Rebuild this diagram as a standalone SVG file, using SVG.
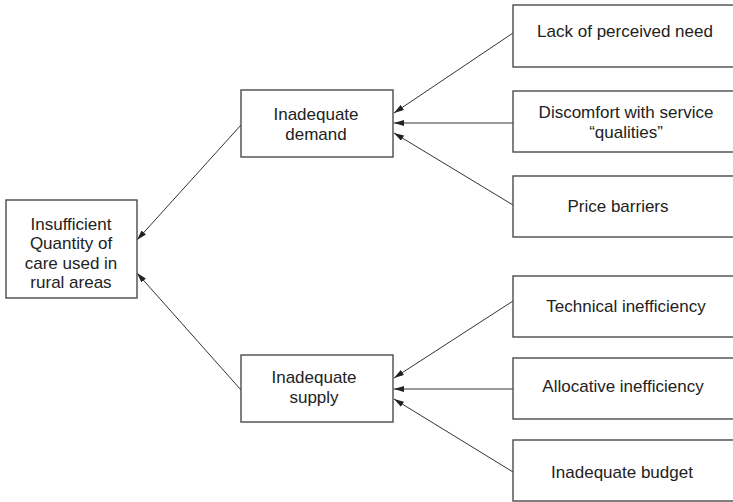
<svg xmlns="http://www.w3.org/2000/svg" width="733" height="502" viewBox="0 0 733 502">
  <defs>
    <style>
      .box { fill: #ffffff; stroke: #4a4a4a; stroke-width: 1.4; }
      .lbl { font-family: "Liberation Sans", Arial, sans-serif; font-size: 17px; fill: #222222; text-anchor: middle; }
      .link { stroke: #333333; stroke-width: 1; fill: none; marker-end: url(#head); }
    </style>
    <marker id="head" viewBox="0 0 10 6" refX="10" refY="3" markerWidth="10" markerHeight="6" markerUnits="userSpaceOnUse" orient="auto">
      <path d="M0,0 L10,3 L0,6 Z" fill="#222222"/>
    </marker>
  </defs>
  <rect width="733" height="502" fill="#ffffff"/>

  <!-- connectors -->
  <g id="connectors">
    <line class="link" x1="241" y1="125" x2="137" y2="240"/>
    <line class="link" x1="241" y1="390" x2="137" y2="273"/>
    <line class="link" x1="513" y1="33" x2="394" y2="113"/>
    <line class="link" x1="513" y1="123" x2="394" y2="123"/>
    <line class="link" x1="513" y1="205" x2="394" y2="133"/>
    <line class="link" x1="513" y1="301" x2="394" y2="378"/>
    <line class="link" x1="513" y1="389" x2="394" y2="389"/>
    <line class="link" x1="513" y1="472" x2="394" y2="399"/>
  </g>

  <!-- outcome -->
  <g id="insufficient-care">
    <rect class="box" x="6" y="200" width="131" height="98"/>
    <text class="lbl" x="71" y="229.5">Insufficient</text>
    <text class="lbl" x="71" y="249">Quantity of</text>
    <text class="lbl" x="71" y="268.5">care used in</text>
    <text class="lbl" x="71" y="288">rural areas</text>
  </g>

  <!-- intermediate causes -->
  <g id="inadequate-demand">
    <rect class="box" x="241" y="90" width="152" height="67"/>
    <text class="lbl" x="316" y="120">Inadequate</text>
    <text class="lbl" x="316" y="140">demand</text>
  </g>
  <g id="inadequate-supply">
    <rect class="box" x="241" y="355" width="152" height="67"/>
    <text class="lbl" x="314" y="383">Inadequate</text>
    <text class="lbl" x="314" y="403">supply</text>
  </g>

  <!-- root causes: demand side -->
  <g id="lack-of-need">
    <rect class="box" x="513" y="5" width="230" height="62"/>
    <text class="lbl" x="625" y="37">Lack of perceived need</text>
  </g>
  <g id="discomfort">
    <rect class="box" x="513" y="91" width="230" height="61"/>
    <text class="lbl" x="626" y="118">Discomfort with service</text>
    <text class="lbl" x="626" y="138">“qualities”</text>
  </g>
  <g id="price-barriers">
    <rect class="box" x="513" y="176" width="230" height="61"/>
    <text class="lbl" x="618" y="212">Price barriers</text>
  </g>

  <!-- root causes: supply side -->
  <g id="technical-inefficiency">
    <rect class="box" x="513" y="276" width="230" height="61"/>
    <text class="lbl" x="626" y="312">Technical inefficiency</text>
  </g>
  <g id="allocative-inefficiency">
    <rect class="box" x="513" y="358" width="230" height="61"/>
    <text class="lbl" x="623" y="392">Allocative inefficiency</text>
  </g>
  <g id="inadequate-budget">
    <rect class="box" x="513" y="440" width="230" height="61"/>
    <text class="lbl" x="622" y="478">Inadequate budget</text>
  </g>
</svg>
